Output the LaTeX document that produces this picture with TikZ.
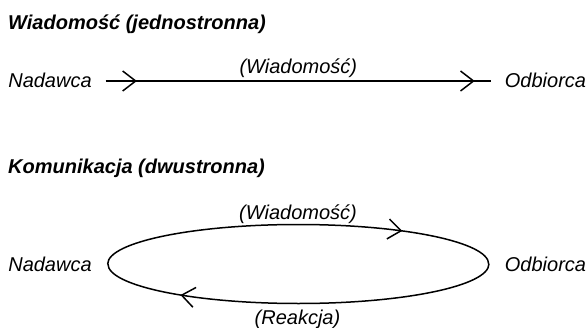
\documentclass[tikz,border=0pt]{standalone}
\usepackage{fontspec}
\setmainfont{Liberation Sans}
\usetikzlibrary{arrows.meta,decorations.markings}

\begin{document}
\begin{tikzpicture}[x=1pt,y=1pt,
  every node/.style={font=\fontsize{20}{24}\selectfont\itshape},
  heading/.style={anchor=base west, inner sep=0pt, font=\fontsize{20}{24}\selectfont\bfseries\itshape},
  party/.style={inner sep=0pt, text height=14pt, text depth=0pt},
  tag/.style={inner sep=0pt, anchor=base},
  line/.style={line width=1.5pt},
  tip at/.style={postaction={decorate, decoration={markings, mark=at position #1 with {\arrow[line width=1.5pt]{Straight Barb[length=13pt,width=20pt]}}}}}
]
  \useasboundingbox (0,0) rectangle (588,327);
  % one way
  \node[heading] (head1) at (8,297) {Wiadomość (jednostronna)};
  \node[party, outer xsep=14pt] (nad1) at (50,246) {Nadawca};
  \node[party, outer xsep=14pt] (odb1) at (545.5,246) {Odbiorca};
  \draw[line, tip at=0.081, tip at=0.958] (nad1) -- node[tag, yshift=7pt] (msg1) {(Wiadomość)} (odb1);
  % two way
  \node[heading] (head2) at (8,154) {Komunikacja (dwustronna)};
  \node[party, outer xsep=16pt] (nad2) at (50,63) {Nadawca};
  \node[party, outer xsep=16pt] (odb2) at (545.5,63) {Odbiorca};
  \draw[line, tip at=0.76] (nad2.east) arc[start angle=180, end angle=0, x radius=190.5, y radius=39.5];
  \draw[line, tip at=0.795] (odb2.west) arc[start angle=0, end angle=-180, x radius=190.5, y radius=39.5];
  \node[tag] (msg2) at (298,108) {(Wiadomość)};
  \node[tag] (reply2) at (297.5,3) {(Reakcja)};
\end{tikzpicture}
\end{document}
